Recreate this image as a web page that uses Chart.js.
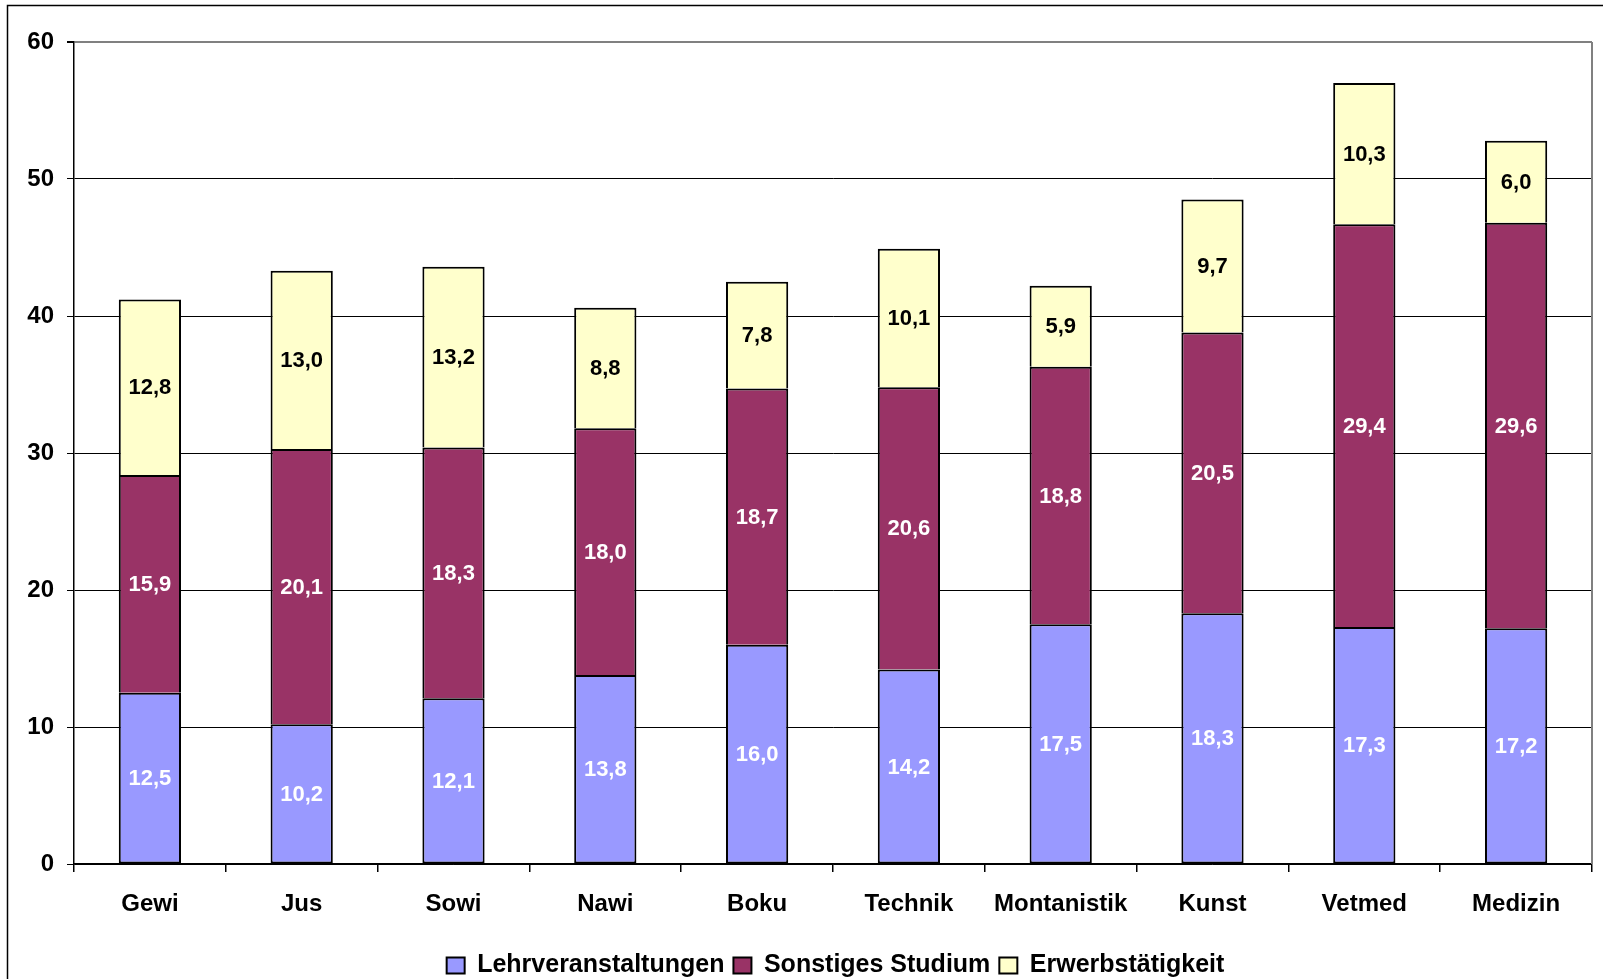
<!DOCTYPE html>
<html>
<head>
<meta charset="utf-8">
<script src="https://cdn.jsdelivr.net/npm/chart.js@4"></script>
<style>
  body { margin: 0; overflow: hidden; background: #fff; }
  #wrap { width: 1603px; height: 988px; position: relative; }
</style>
</head>
<body>
<div id="wrap"><canvas id="canvas"></canvas></div>
<script>
var categories = ['Gewi', 'Jus', 'Sowi', 'Nawi', 'Boku', 'Technik', 'Montanistik', 'Kunst', 'Vetmed', 'Medizin'];
var lehrveranstaltungen = [12.5, 10.2, 12.1, 13.8, 16.0, 14.2, 17.5, 18.3, 17.3, 17.2];
var sonstigesStudium = [15.9, 20.1, 18.3, 18.0, 18.7, 20.6, 18.8, 20.5, 29.4, 29.6];
var erwerbstaetigkeit = [12.8, 13.0, 13.2, 8.8, 7.8, 10.1, 5.9, 9.7, 10.3, 6.0];
var yTicks = [0, 10, 20, 30, 40, 50, 60];

var fontFamily = '"Liberation Sans", Arial, sans-serif';

// frame around the whole picture + grey right edge of plot
var framePlugin = {
  id: 'frame',
  afterLayout: function (chart) {
    // legend sits centred under the plot area, not the whole canvas
    var shift = (chart.chartArea.left + chart.chartArea.right) / 2 - chart.width / 2 + 8;
    chart.legend.left += shift;
    chart.legend.right += shift;
  },
  beforeDraw: function (chart) {
    var c = chart.ctx;
    c.save();
    c.fillStyle = '#fff';
    c.fillRect(0, 0, chart.width, chart.height);
    c.strokeStyle = '#000';
    c.lineWidth = 1.5;
    c.beginPath();
    c.moveTo(7.5, chart.height);
    c.lineTo(7.5, 5.5);
    c.lineTo(chart.width, 5.5);
    c.stroke();
    c.restore();
  },
  beforeDatasetsDraw: function (chart) {
    var a = chart.chartArea, c = chart.ctx;
    c.save();
    c.strokeStyle = '#808080';
    c.lineWidth = 2;
    c.beginPath();
    c.moveTo(a.right, a.top);
    c.lineTo(a.right, a.bottom);
    c.stroke();
    c.restore();
  }
};

// value labels in the middle of each segment
var labelPlugin = {
  id: 'segLabels',
  afterDatasetsDraw: function (chart) {
    var c = chart.ctx;
    c.save();
    c.font = 'bold 22px ' + fontFamily;
    c.textAlign = 'center';
    c.textBaseline = 'middle';
    chart.data.datasets.forEach(function (ds, i) {
      var meta = chart.getDatasetMeta(i);
      c.fillStyle = i < 2 ? '#fff' : '#000';
      meta.data.forEach(function (bar, j) {
        var txt = ds.data[j].toFixed(1).replace('.', ',');
        c.fillText(txt, bar.x, (bar.y + bar.base) / 2 + 1);
      });
    });
    c.restore();
  }
};

var ctx = document.getElementById('canvas').getContext('2d');
var chart = new Chart(ctx, {
  type: 'bar',
  data: {
    labels: categories,
    datasets: [{
      label: 'Lehrveranstaltungen',
      data: lehrveranstaltungen,
      backgroundColor: '#9999FF',
      borderColor: '#000',
      borderWidth: 2,
      borderSkipped: false
    },
    {
      label: 'Sonstiges Studium',
      data: sonstigesStudium,
      backgroundColor: '#993366',
      borderColor: '#000',
      borderWidth: 2,
      borderSkipped: 'bottom'
    },
    {
      label: 'Erwerbstätigkeit',
      data: erwerbstaetigkeit,
      backgroundColor: '#FFFFCC',
      borderColor: '#000',
      borderWidth: 2,
      borderSkipped: 'bottom'
    }]
  },
  options: {
    responsive: true,
    maintainAspectRatio: false,
    animation: false,
    layout: { padding: { left: 0, top: 42, right: 11, bottom: 0 } },
    datasets: { bar: { barPercentage: 0.41, categoryPercentage: 1 } },
    plugins: {
      tooltip: { enabled: false },
      legend: {
        position: 'bottom',
        labels: {
          color: '#000',
          font: { family: fontFamily, size: 25, weight: 'bold' },
          boxWidth: 18,
          boxHeight: 16,
          padding: 9
        }
      }
    },
    scales: {
      x: {
        stacked: true,
        afterFit: function (s) { s.height = 80; },
        border: { color: '#000', width: 1.5 },
        grid: { drawOnChartArea: false, color: '#000', tickLength: 8, lineWidth: 1.5 },
        ticks: { color: '#000', padding: 18, font: { family: fontFamily, size: 24, weight: 'bold' } }
      },
      y: {
        stacked: true,
        min: 0,
        max: 60,
        afterFit: function (s) { s.width = 74; },
        afterBuildTicks: function (s) { s.ticks = yTicks.map(function (v) { return { value: v }; }); },
        border: { color: '#000', width: 1.5 },
        grid: {
          color: function (c) { return c.tick && c.tick.value === 60 ? '#808080' : '#000'; },
          lineWidth: function (c) { return c.tick && c.tick.value === 60 ? 2 : 1; },
          tickColor: '#000',
          tickLength: 7
        },
        ticks: { color: '#000', padding: 13, font: { family: fontFamily, size: 24, weight: 'bold' } }
      }
    }
  },
  plugins: [framePlugin, labelPlugin]
});
</script>
</body>
</html>
